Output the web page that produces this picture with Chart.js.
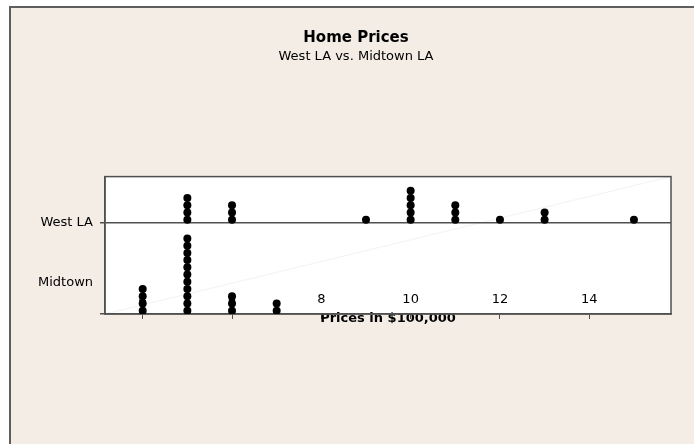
<!DOCTYPE html>
<html>
<head>
<meta charset="utf-8">
<script src="https://cdn.jsdelivr.net/npm/chart.js@4"></script>
<style>
    body { margin: 0; background: #ffffff; }
    #marco {
        position: absolute;
        left: 9px;
        top: 6px;
        width: 683px;
        height: 436px;
        border-left: 2px solid #5e5e5e;
        border-top: 2px solid #5e5e5e;
        background: #f4ede6;
    }
</style>
</head>
<body>
<div id="marco">
    <canvas id="graficoPrecios" width="683" height="436"></canvas>
</div>
<script>
// Home prices, in $100,000 (one dot per home)
const grupos = ['West LA', 'Midtown'];
const preciosWestLA = [5, 5, 5, 5, 6, 6, 6, 9, 10, 10, 10, 10, 10, 11, 11, 11, 12, 13, 13, 15];
const preciosMidtown = [4, 4, 4, 4, 5, 5, 5, 5, 5, 5, 5, 5, 5, 5, 5, 6, 6, 6, 7, 7];
const ticksPrecio = [4, 6, 8, 10, 12, 14];

// y is measured in dot heights
const baseWestLA = 12.6;
const baseMidtown = 0;
const etiquetaMidtown = 4.4;

// stack repeated values into columns of dots
const apilar = (precios, base) => {
    let cuenta = {};
    let puntos = [];
    for (let i = 0; i < precios.length; i++) {
        const p = precios[i];
        cuenta[p] = (cuenta[p] || 0) + 1;
        puntos.push({ x: p, y: base + 0.45 + (cuenta[p] - 1) });
    }
    return puntos;
};

const fuente = "'DejaVu Sans', sans-serif";
const gris = '#505050';
const nada = 'rgba(0,0,0,0)';

// white plot area, frame and the faint diagonal
const fondoPlot = {
    id: 'fondoPlot',
    beforeDraw(chart) {
        const { ctx, chartArea: a } = chart;
        ctx.save();
        ctx.fillStyle = '#ffffff';
        ctx.fillRect(a.left, a.top, a.right - a.left, a.bottom - a.top);
        ctx.strokeStyle = '#f3f3f3';
        ctx.lineWidth = 1;
        ctx.beginPath();
        ctx.moveTo(a.left, a.bottom);
        ctx.lineTo(a.right, a.top);
        ctx.stroke();
        ctx.restore();
    },
    beforeDatasetsDraw(chart) {
        const { ctx, chartArea: a } = chart;
        ctx.save();
        ctx.strokeStyle = gris;
        ctx.lineWidth = 1.5;
        ctx.strokeRect(a.left, a.top, a.right - a.left, a.bottom - a.top);
        ctx.restore();
    }
};

const data = {
    datasets: [
        {
            label: grupos[0],
            data: apilar(preciosWestLA, baseWestLA),
            pointRadius: 4,
            pointBorderWidth: 0,
            backgroundColor: '#000000',
            borderColor: '#000000',
        },
        {
            label: grupos[1],
            data: apilar(preciosMidtown, baseMidtown),
            pointRadius: 4,
            pointBorderWidth: 0,
            backgroundColor: '#000000',
            borderColor: '#000000',
        }
    ]
};

const config = {
    type: 'scatter',
    data: data,
    plugins: [fondoPlot],
    options: {
        responsive: false,
        animation: false,
        layout: {
            padding: { left: 16, right: 9, top: 0, bottom: 118 }
        },
        plugins: {
            legend: { display: false },
            tooltip: { enabled: false },
            title: {
                display: true,
                text: 'Home Prices',
                color: '#000000',
                font: { size: 15, family: fuente, weight: 'bold' },
                padding: { top: 21, bottom: 0 }
            },
            subtitle: {
                display: true,
                text: 'West LA vs. Midtown LA',
                color: '#000000',
                font: { size: 13, family: fuente },
                padding: { top: 2, bottom: 112 }
            }
        },
        scales: {
            x: {
                type: 'linear',
                min: 3.156,
                max: 15.83,
                afterBuildTicks: (eje) => {
                    eje.ticks = ticksPrecio.map(v => ({ value: v }));
                },
                afterFit: (eje) => { eje.height = 12; },
                grid: {
                    drawOnChartArea: false,
                    drawTicks: true,
                    tickLength: 5,
                    tickColor: gris,
                },
                border: { display: true, color: gris, width: 1.5 },
                ticks: {
                    mirror: true,
                    padding: 7,
                    color: '#000000',
                    font: { size: 13, family: fuente },
                    maxRotation: 0,
                    autoSkip: false,
                },
                title: {
                    display: true,
                    text: 'Prices in $100,000',
                    color: '#000000',
                    font: { size: 13, family: fuente, weight: 'bold' },
                    padding: 0
                }
            },
            y: {
                type: 'linear',
                min: 0,
                max: 19,
                afterBuildTicks: (eje) => {
                    eje.ticks = [
                        { value: baseMidtown },
                        { value: etiquetaMidtown },
                        { value: baseWestLA }
                    ];
                },
                afterFit: (eje) => { eje.width = 78; },
                grid: {
                    drawTicks: true,
                    tickLength: 5,
                    lineWidth: 1.5,
                    color: (c) => c.tick && c.tick.value === baseWestLA ? gris : nada,
                    tickColor: (c) => c.tick && c.tick.value === etiquetaMidtown ? nada : gris,
                },
                border: { display: true, color: gris, width: 1.5 },
                ticks: {
                    padding: 7,
                    color: '#000000',
                    font: { size: 13, family: fuente },
                    autoSkip: false,
                    callback: (v) => {
                        if (v === baseWestLA) return grupos[0];
                        if (v === etiquetaMidtown) return grupos[1];
                        return '';
                    }
                }
            },
            // empty right axis, only keeps the plot edge where it belongs
            yDerecha: {
                type: 'linear',
                position: 'right',
                display: true,
                afterFit: (eje) => { eje.width = 14; },
                grid: { display: false },
                border: { display: false },
                ticks: { display: false }
            }
        }
    }
};

const graficoPrecios = new Chart(
    document.getElementById('graficoPrecios'),
    config
);
</script>
</body>
</html>
